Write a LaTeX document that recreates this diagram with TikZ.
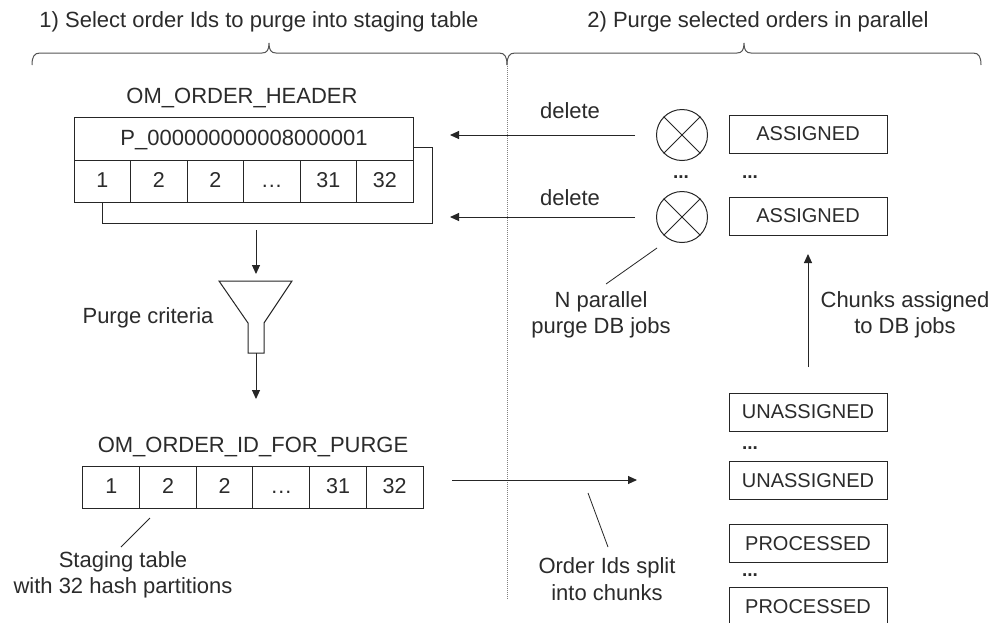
\documentclass[tikz,border=0pt]{standalone}
\usepackage{fontspec}
\setmainfont{Liberation Sans}
\usetikzlibrary{arrows.meta}
\definecolor{txt}{HTML}{2B2B2B}
\definecolor{ln}{HTML}{262626}
\definecolor{brc}{HTML}{555555}
\begin{document}
\begin{tikzpicture}[x=1pt,y=-1pt,
  lbl/.style={font=\fontsize{22}{26.5}\selectfont, text=txt, align=center, inner sep=0pt},
  box/.style={draw=ln, line width=1pt, fill=white, inner sep=0pt, text=txt},
  cell/.style={box, minimum width=56.5pt, minimum height=42pt, text height=15pt, text depth=3pt, font=\fontsize{21.5}{24}\selectfont},
  status/.style={box, minimum width=158pt, minimum height=38pt, font=\fontsize{20}{23}\selectfont},
  arr/.style={draw=ln, line width=1pt, -{Triangle[length=9pt,width=8pt]}},
  lead/.style={draw=ln, line width=0.8pt},
  dots/.style={font=\fontsize{19}{20}\selectfont\bfseries, text=txt, inner sep=0pt},
  bracestyle/.style={draw=brc, line width=1pt},
  xcirc/.style={draw=ln, line width=1pt, circle, minimum size=51pt, inner sep=0pt}]
\useasboundingbox (0,0) rectangle (998,622);
\clip (0,0) rectangle (998,622);
\fill[white] (0,0) rectangle (998,622);

% titles and braces
\node[lbl] (t1) at (259,22) {1) Select order Ids to purge into staging table};
\node[lbl] (t2) at (758,22) {2) Purge selected orders in parallel};
\coordinate (b1a) at (32,65);
\coordinate (b1m) at (269,43);
\coordinate (b1b) at (507,65);
\coordinate (b2m) at (744,43);
\coordinate (b2b) at (981,65);
\draw[bracestyle] (b1a) .. controls (32,57) and (34,53) .. (40,53) -- (262,53)
  .. controls (267,53) and (269,50) .. (b1m) .. controls (269,50) and (271,53) .. (276,53)
  -- (499,53) .. controls (505,53) and (507,57) .. (b1b);
\draw[bracestyle] (b1b) .. controls (507,57) and (509,53) .. (515,53) -- (737,53)
  .. controls (742,53) and (744,50) .. (b2m) .. controls (744,50) and (746,53) .. (751,53)
  -- (973,53) .. controls (979,53) and (981,57) .. (b2b);

% dotted separator
\coordinate (dtop) at (507,66);
\coordinate (dbot) at (507,600);
\draw[draw=gray, line width=1pt, densely dotted] (dtop) -- (dbot);

% OM_ORDER_HEADER
\node[lbl] (hname) at (242,98) {OM\_ORDER\_HEADER};
\node[box, minimum width=330pt, minimum height=76pt, anchor=north west] (hsh) at (102,147) {};
\node[box, minimum width=339pt, minimum height=43pt, anchor=north west, text height=15pt, text depth=3pt, font=\fontsize{22}{24}\selectfont] (htop) at (74,117) {P\_000000000008000001};
\node[cell] (h1) at (102.25,181) {1};
\node[cell] (h2) at (158.75,181) {2};
\node[cell] (h3) at (215.25,181) {2};
\node[cell] (h4) at (271.75,181) {.\kern1pt.\kern1pt.};
\node[cell] (h5) at (328.25,181) {31};
\node[cell] (h6) at (384.75,181) {32};

% delete arrows and jobs
\node[xcirc] (c1) at (682,135) {};
\node[xcirc] (c2) at (682,217) {};
\draw[ln, line width=1pt] (c1.45) -- (c1.225) (c1.135) -- (c1.315);
\draw[ln, line width=1pt] (c2.45) -- (c2.225) (c2.135) -- (c2.315);
\coordinate (d1s) at (635,135);
\coordinate (d1e) at (450,135);
\coordinate (d2s) at (635,217);
\coordinate (d2e) at (450,217);
\draw[arr] (d1s) -- (d1e);
\draw[arr] (d2s) -- (d2e);
\node[lbl] (del1) at (570,111) {delete};
\node[lbl] (del2) at (570,198) {delete};
\node[dots] (cd) at (681,177) {...};
\node[dots] (ad) at (750,177) {...};
\node[status] (a1) at (808,134) {ASSIGNED};
\node[status] (a2) at (808,216) {ASSIGNED};

% N parallel
\node[lbl] (np) at (601,315) {N parallel\\purge DB jobs};
\coordinate (npl1) at (606,284);
\coordinate (npl2) at (657,248);
\draw[lead] (npl1) -- (npl2);

% chunks assigned
\coordinate (up1) at (808,367);
\coordinate (up2) at (808,254);
\draw[arr] (up1) -- (up2);
\node[lbl] (ca) at (905,315) {Chunks assigned\\to DB jobs};

% status list
\node[status] (u1) at (808,412) {UNASSIGNED};
\node[dots] (ud) at (750,448) {...};
\node[status] (u2) at (808,480.5) {UNASSIGNED};
\node[status] (p1) at (808,543.5) {PROCESSED};
\node[dots] (pd) at (750,575) {...};
\node[status, anchor=north] (p2) at (808,587) {PROCESSED};

% funnel
\coordinate (f1) at (256,230);
\coordinate (f2) at (256,274);
\draw[arr] (f1) -- (f2);
\draw[ln, line width=1pt, fill=white] (219,281) -- (292,281) -- (264,323) -- (264,353) -- (248,353) -- (248,323) -- cycle;
\coordinate (f3) at (256,353);
\coordinate (f4) at (256,399);
\draw[arr] (f3) -- (f4);
\node[lbl] (pc) at (148,318) {Purge criteria};

% OM_ORDER_ID_FOR_PURGE
\node[lbl] (sname) at (253,447) {OM\_ORDER\_ID\_FOR\_PURGE};
\node[cell, minimum width=56.7pt] (s1) at (111.3,487) {1};
\node[cell, minimum width=56.7pt] (s2) at (168,487) {2};
\node[cell, minimum width=56.7pt] (s3) at (224.7,487) {2};
\node[cell, minimum width=56.7pt] (s4) at (281.3,487) {.\kern1pt.\kern1pt.};
\node[cell, minimum width=56.7pt] (s5) at (338,487) {31};
\node[cell, minimum width=56.7pt] (s6) at (394.7,487) {32};
\coordinate (sl1) at (150,518);
\coordinate (sl2) at (121,547);
\draw[lead] (sl1) -- (sl2);
\node[lbl] (st) at (123,575) {Staging table\\with 32 hash partitions};

% split arrow
\coordinate (o1) at (452,480);
\coordinate (o2) at (637,480);
\draw[arr] (o1) -- (o2);
\coordinate (ol1) at (588,493);
\coordinate (ol2) at (608,547);
\draw[lead] (ol1) -- (ol2);
\node[lbl] (oi) at (607,579) {Order Ids split\\into chunks};
\end{tikzpicture}
\end{document}
